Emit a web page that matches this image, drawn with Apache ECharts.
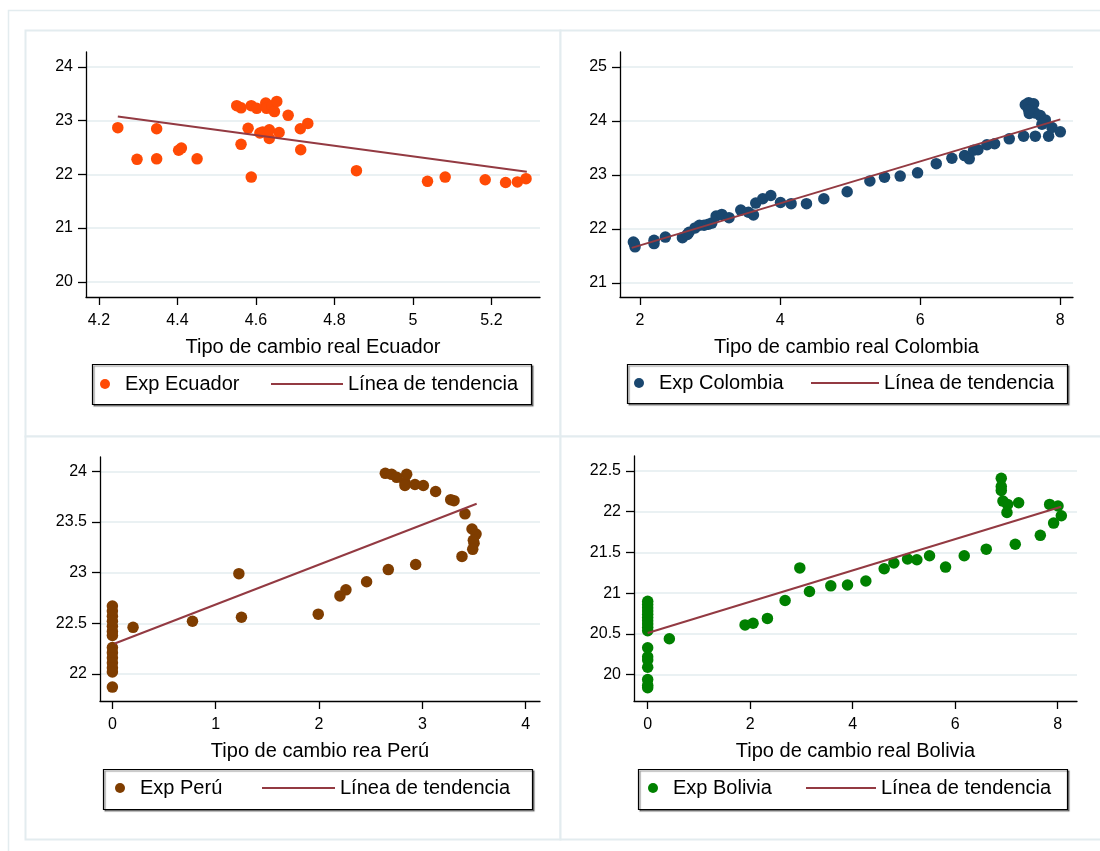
<!DOCTYPE html>
<html>
<head>
<meta charset="utf-8">
<script src="https://cdn.jsdelivr.net/npm/echarts@6/dist/echarts.min.js"></script>
<style>
  html, body { margin: 0; padding: 0; background: #fff; }
  #chart { width: 1100px; height: 851px; }
</style>
</head>
<body>
<div id="chart"></div>
<script>
'use strict';

// Ecuador
var ecuadorPts = [
    [4.248, 22.87], [4.297, 22.28], [4.347, 22.85], [4.347, 22.29], [4.403, 22.45],
    [4.410, 22.49], [4.450, 22.29], [4.551, 23.28], [4.562, 23.24], [4.562, 22.56],
    [4.580, 22.86], [4.588, 21.95], [4.588, 23.28], [4.602, 23.23], [4.610, 22.77],
    [4.617, 22.79], [4.625, 23.33], [4.627, 23.23], [4.634, 22.67], [4.634, 22.83],
    [4.641, 23.28], [4.647, 23.17], [4.653, 23.36], [4.659, 22.78], [4.682, 23.10],
    [4.713, 22.85], [4.714, 22.46], [4.732, 22.95], [4.856, 22.07], [5.037, 21.87],
    [5.082, 21.95], [5.184, 21.90], [5.236, 21.85], [5.266, 21.86], [5.288, 21.92]
];
var ecuadorTrend = [[4.248, 23.08], [5.290, 22.05]];

// Colombia
var colombiaPts = [
    [1.905, 21.76], [1.929, 21.67], [1.919, 21.73], [2.20, 21.79], [2.20, 21.73],
    [2.362, 21.85], [2.605, 21.84], [2.676, 21.90], [2.70, 21.94], [2.786, 22.02],
    [2.848, 22.07], [2.914, 22.07], [2.976, 22.09], [3.024, 22.11], [3.086, 22.24],
    [3.167, 22.27], [3.271, 22.21], [3.438, 22.35], [3.548, 22.31], [3.619, 22.26],
    [3.652, 22.48], [3.752, 22.56], [3.867, 22.62], [4.005, 22.49], [4.157, 22.47],
    [4.376, 22.47], [4.624, 22.56], [4.957, 22.69], [5.281, 22.89], [5.490, 22.96],
    [5.714, 22.98], [5.962, 23.04], [6.229, 23.21], [6.452, 23.31], [6.633, 23.36],
    [6.70, 23.30], [6.762, 23.46], [6.824, 23.47], [6.952, 23.56], [7.062, 23.58],
    [7.271, 23.67], [7.476, 23.72], [7.50, 24.30], [7.548, 24.34], [7.619, 24.32],
    [7.557, 24.14], [7.638, 24.15], [7.714, 24.10], [7.786, 24.02], [7.738, 23.94],
    [7.643, 23.72], [7.833, 23.72], [7.881, 23.88], [8.00, 23.80], [7.548, 24.20]
];
var colombiaTrend = [[1.881, 21.65], [8.00, 24.03]];

// Perú
var peruPts = [
    [0, 22.67], [0, 22.62], [0, 22.57], [0, 22.52], [0, 22.47], [0, 22.42], [0, 22.38],
    [0, 22.26], [0, 22.21], [0, 22.16], [0, 22.11], [0, 22.06], [0, 22.02], [0, 21.87],
    [0.20, 22.46], [0.775, 22.52], [1.224, 22.99], [1.249, 22.56], [1.992, 22.59],
    [2.202, 22.77], [2.26, 22.83], [2.46, 22.91], [2.67, 23.03], [2.935, 23.08],
    [2.641, 23.98], [2.702, 23.97], [2.751, 23.94], [2.831, 23.89], [2.848, 23.97],
    [2.831, 23.86], [2.928, 23.87], [3.009, 23.86], [3.128, 23.80], [3.274, 23.72],
    [3.306, 23.71], [3.412, 23.58], [3.48, 23.43], [3.519, 23.38], [3.50, 23.29],
    [3.493, 23.32], [3.487, 23.23], [3.383, 23.16]
];
var peruTrend = [[0.023, 22.30], [3.525, 23.68]];

// Bolivia
var boliviaPts = [
    [0, 20.90], [0, 20.86], [0, 20.82], [0, 20.78], [0, 20.74], [0, 20.70], [0, 20.66],
    [0, 20.62], [0, 20.58], [0, 20.54], [0, 20.33], [0, 20.22], [0, 20.18], [0, 20.09],
    [0, 19.94], [0, 19.87], [0, 19.84],
    [0.423, 20.44], [1.901, 20.61], [2.057, 20.63], [2.337, 20.69], [2.682, 20.91],
    [2.969, 21.31], [3.158, 21.02], [3.574, 21.09], [3.90, 21.10], [4.258, 21.15],
    [4.616, 21.30], [4.805, 21.37], [5.072, 21.42], [5.254, 21.41], [5.501, 21.46],
    [5.814, 21.32], [6.178, 21.46], [6.608, 21.54], [6.901, 22.41], [6.901, 22.31],
    [6.901, 22.26], [6.934, 22.13], [7.025, 22.09], [7.012, 21.99], [7.24, 22.11],
    [7.174, 21.60], [7.663, 21.71], [7.845, 22.09], [8.008, 22.07], [7.923, 21.86],
    [8.073, 21.95]
];
var boliviaTrend = [[0, 20.51], [8.07, 22.06]];

// tick labels
var ecuadorXTicks = [4.2, 4.4, 4.6, 4.8, 5, 5.2];
var ecuadorYTicks = [20, 21, 22, 23, 24];
var colombiaXTicks = [2, 4, 6, 8];
var colombiaYTicks = [21, 22, 23, 24, 25];
var peruXTicks = [0, 1, 2, 3, 4];
var peruYTicks = [22, 22.5, 23, 23.5, 24];
var boliviaXTicks = [0, 2, 4, 6, 8];
var boliviaYTicks = [20, 20.5, 21, 21.5, 22, 22.5];

var FONT = '"Liberation Sans", Arial, sans-serif';
var TREND_COLOR = '#933a42';
var GRID_COLOR = '#eaf1f3';
var FRAME_COLOR = '#e3ecef';
var TREND_ICON = 'path://M0,0H72V2H0Z';

var panels = [
    {name: 'Exp Ecuador', title: 'Tipo de cambio real Ecuador', color: '#ff4a05',
     pts: ecuadorPts, trend: ecuadorTrend, xt: ecuadorXTicks, yt: ecuadorYTicks,
     grid: {left: 86, top: 52, width: 454, height: 245},
     xmin: 4.167, xmax: 5.3236, ymin: 19.716, ymax: 24.28,
     leg: {box: [92, 364, 439, 40], dot: 105, line: 271, lineW: 72, y: 374}},
    {name: 'Exp Colombia', title: 'Tipo de cambio real Colombia', color: '#1a476f',
     pts: colombiaPts, trend: colombiaTrend, xt: colombiaXTicks, yt: colombiaYTicks,
     grid: {left: 620, top: 52, width: 453, height: 245},
     xmin: 1.714, xmax: 8.181, ymin: 20.741, ymax: 25.278,
     leg: {box: [627, 364, 440, 39], dot: 639, line: 811, lineW: 68, y: 373}},
    {name: 'Exp Perú', title: 'Tipo de cambio rea Perú', color: '#7f3d00',
     pts: peruPts, trend: peruTrend, xt: peruXTicks, yt: peruYTicks,
     grid: {left: 100, top: 457, width: 440, height: 244},
     xmin: -0.12, xmax: 4.138, ymin: 21.733, ymax: 24.141,
     leg: {box: [103, 769, 429, 40], dot: 120, line: 262, lineW: 73, y: 778}},
    {name: 'Exp Bolivia', title: 'Tipo de cambio real Bolivia', color: '#008000',
     pts: boliviaPts, trend: boliviaTrend, xt: boliviaXTicks, yt: boliviaYTicks,
     grid: {left: 634, top: 456, width: 443, height: 245},
     xmin: -0.267, xmax: 8.379, ymin: 19.676, ymax: 22.684,
     leg: {box: [638, 769, 429, 40], dot: 653, line: 806, lineW: 70, y: 778}}
];

function fmt(v) {
    return String(+(+v).toFixed(2));
}

var option = {
    animation: false,
    backgroundColor: '#fff',
    textStyle: {fontFamily: FONT},
    grid: [], xAxis: [], yAxis: [], series: [], legend: [],
    graphic: []
};

// outer frames
option.graphic.push({type: 'rect', silent: true, z: -10,
    shape: {x: 8.5, y: 10.5, width: 1100, height: 900},
    style: {fill: '#fff', stroke: FRAME_COLOR, lineWidth: 1.5}});
var frames = [[25, 30, 535, 406], [560, 30, 545, 406], [25, 436, 535, 403], [560, 436, 545, 403]];
for (var f = 0; f < frames.length; f ++) {
    option.graphic.push({type: 'rect', silent: true, z: -9,
        shape: {x: frames[f][0] + 0.5, y: frames[f][1] + 0.5, width: frames[f][2], height: frames[f][3]},
        style: {fill: '#fff', stroke: FRAME_COLOR, lineWidth: 2}});
}

for (var i = 0; i < panels.length; i ++) {
    var p = panels[i];
    option.grid.push(p.grid);
    option.xAxis.push({
        type: 'value', gridIndex: i, min: p.xmin, max: p.xmax,
        name: p.title, nameLocation: 'middle', nameGap: 40,
        nameTextStyle: {fontSize: 20, color: '#000', fontFamily: FONT},
        axisLine: {onZero: false, lineStyle: {color: '#000', width: 1.3}},
        axisTick: {show: true, length: 8, customValues: p.xt, lineStyle: {color: '#000', width: 1.3}},
        axisLabel: {customValues: p.xt, formatter: fmt, fontSize: 16, color: '#000', margin: 16, fontFamily: FONT},
        splitLine: {show: false}
    });
    option.yAxis.push({
        type: 'value', gridIndex: i, min: p.ymin, max: p.ymax,
        axisLine: {show: true, onZero: false, lineStyle: {color: '#000', width: 1.3}},
        axisTick: {show: true, length: 8, customValues: p.yt, lineStyle: {color: '#000', width: 1.3}},
        axisLabel: {customValues: p.yt, formatter: fmt, fontSize: 16, color: '#000', margin: 13, fontFamily: FONT},
        splitLine: {show: true, lineStyle: {color: GRID_COLOR, width: 2}}
    });
    option.series.push({
        name: p.name, type: 'scatter', xAxisIndex: i, yAxisIndex: i,
        data: p.pts, symbolSize: 11.5,
        itemStyle: {color: p.color, opacity: 1}
    });
    option.series.push({
        name: 'Línea de tendencia ' + i, type: 'line', xAxisIndex: i, yAxisIndex: i,
        data: p.trend, symbol: 'none', showSymbol: false, z: 3,
        lineStyle: {color: TREND_COLOR, width: 2}
    });

    // legend box
    option.graphic.push({type: 'rect', silent: true, z: 1,
        shape: {x: p.leg.box[0] + 0.5, y: p.leg.box[1] + 0.5, width: p.leg.box[2], height: p.leg.box[3]},
        style: {fill: '#fff', stroke: '#000', lineWidth: 1.2,
                shadowColor: 'rgba(0,0,0,0.45)', shadowOffsetX: 1.5, shadowOffsetY: 1.5, shadowBlur: 1}});
    option.legend.push({
        data: [{name: p.name, icon: 'circle'}], left: p.leg.dot - 5, top: p.leg.y, padding: 0,
        itemWidth: 10, itemHeight: 10, selectedMode: false, z: 5,
        textStyle: {fontSize: 20, color: '#000', fontFamily: FONT, padding: [0, 0, 0, 10]}
    });
    option.legend.push({
        data: [{name: 'Línea de tendencia ' + i, icon: TREND_ICON, itemStyle: {color: TREND_COLOR}}],
        left: p.leg.line, top: p.leg.y, padding: 0,
        itemWidth: p.leg.lineW, itemHeight: 2, symbolKeepAspect: false, selectedMode: false, z: 5,
        formatter: function () { return 'Línea de tendencia'; },
        textStyle: {fontSize: 20, color: '#000', fontFamily: FONT}
    });
}

var chart = echarts.init(document.getElementById('chart'));
chart.setOption(option);
</script>
</body>
</html>
